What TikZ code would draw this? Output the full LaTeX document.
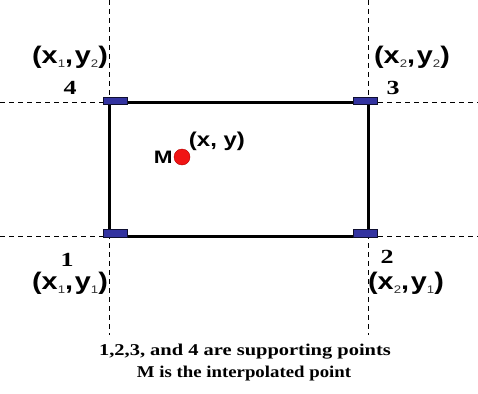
\documentclass[tikz,border=0pt]{standalone}
\usepackage{graphicx}
\usepackage{fontspec}
\setmainfont{Liberation Serif}
\newfontfamily\arialfont{Liberation Sans}
\definecolor{markblue}{RGB}{51,51,160}
\definecolor{dotred}{RGB}{240,20,20}
\newcommand{\subidx}[1]{\raisebox{-4.5pt}{\normalfont\arialfont\fontsize{11}{11}\selectfont\color{black!80}#1}}
\newcommand{\wide}[2][1.2]{\scalebox{#1}[1]{#2}}
\begin{document}
\begin{tikzpicture}[x=1pt,y=-1pt,
  guide/.style={draw=black,line width=1pt,dash pattern=on 5pt off 4pt},
  frame/.style={draw=black,line width=3pt},
  marker/.style={fill=markblue,draw=black!70!markblue,line width=0.6pt},
  coordlabel/.style={font=\arialfont\bfseries\fontsize{24}{26}\selectfont,inner sep=0pt},
  numlabel/.style={font=\bfseries\fontsize{20}{22}\selectfont,inner sep=0pt},
  caption/.style={font=\bfseries\fontsize{16.5}{20}\selectfont,inner sep=0pt,anchor=base}]
\useasboundingbox (0,0) rectangle (478,393);
% corners
\coordinate (c1) at (109,236);
\coordinate (c2) at (368,236);
\coordinate (c3) at (368,102);
\coordinate (c4) at (109,102);
% guide ends
\coordinate (lt) at (109,0);
\coordinate (lb) at (109,335);
\coordinate (rt) at (368,0);
\coordinate (rb) at (368,335);
\coordinate (tl) at (0,102);
\coordinate (tr) at (478,102);
\coordinate (bl) at (0,236);
\coordinate (br) at (478,236);
\draw[guide] (lt) -- (lb);
\draw[guide] (rt) -- (rb);
\draw[guide] (tl) -- (tr);
\draw[guide] (bl) -- (br);
\draw[frame] (c1) -- (c2) -- (c3) -- (c4) -- cycle;
% markers
\draw[marker] (103,97) rectangle (127,104);
\draw[marker] (353,97) rectangle (377,104);
\draw[marker] (103,229) rectangle (127,237);
\draw[marker] (353,229) rectangle (377,237);
% labels
\node[coordlabel] (l4) at (70,57) {\wide{(x\subidx{1},\kern1.5pt y\subidx{2})}};
\node[numlabel] (n4) at (70,88) {\wide[1.3]{4}};
\node[coordlabel] (l3) at (412,57) {\wide{(x\subidx{2},\kern1.5pt y\subidx{2})}};
\node[numlabel] (n3) at (393,88) {\wide[1.3]{3}};
\node[numlabel] (n1) at (67,260) {\wide[1.3]{1}};
\node[coordlabel] (l1) at (70,283) {\wide{(x\subidx{1},\kern1.5pt y\subidx{1})}};
\node[numlabel] (n2) at (387,257) {\wide[1.3]{2}};
\node[coordlabel] (l2) at (406,283) {\wide{(x\subidx{2},\kern1.5pt y\subidx{1})}};
% M point
\node[circle,fill=dotred,draw=red!70!black,line width=0.4pt,minimum size=16pt,inner sep=0pt] (m) at (182,157) {};
\node[coordlabel,font=\arialfont\bfseries\fontsize{18}{20}\selectfont,anchor=east,xshift=-1pt] (mlab) at (m.west) {\wide[1.25]{M}};
\node[coordlabel,font=\arialfont\bfseries\fontsize{20}{22}\selectfont] (mxy) at (217,141) {\wide{(x, y)}};
% caption
\node[caption] (cap1) at (245,355) {\wide[1.24]{1,2,3, and 4 are supporting points}};
\node[caption] (cap2) at (244,377) {\wide[1.14]{M is the interpolated point}};
\end{tikzpicture}
\end{document}
